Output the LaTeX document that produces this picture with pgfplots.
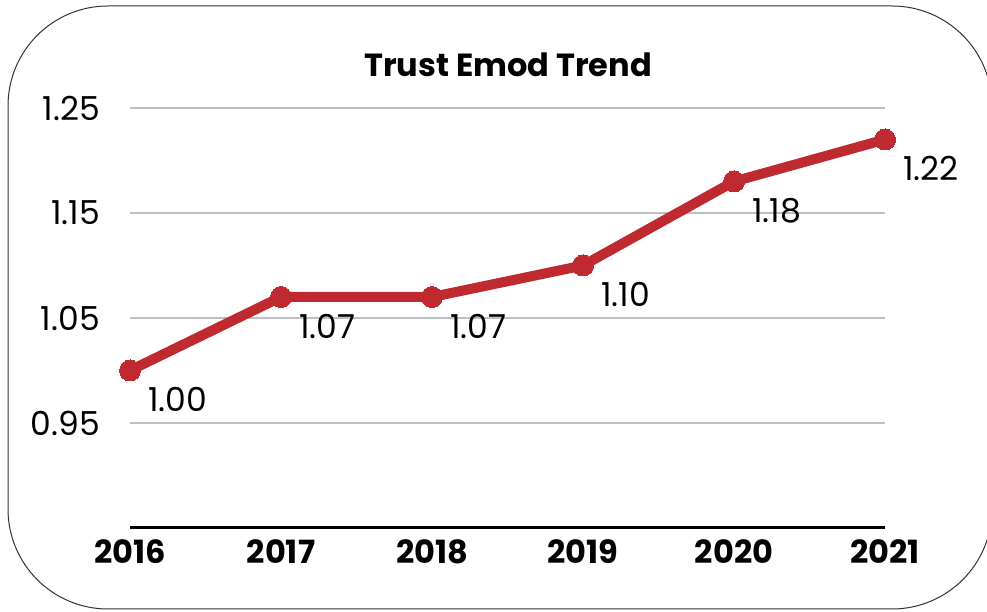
\documentclass[border=0pt]{standalone}
\usepackage{pgfplots}
\pgfplotsset{compat=1.18}
\usepackage{fontspec}
\setmainfont{Poppins}
\definecolor{lred}{HTML}{BE2A2F}
\definecolor{gridc}{HTML}{BFBFBF}
\begin{document}
\begin{tikzpicture}[x=1bp,y=1bp]
\useasboundingbox (0,0) rectangle (987,612);
\draw[line width=1bp, black!80, rounded corners=100bp] (8,3) rectangle (992,606);
\node[anchor=base, font=\fontsize{32bp}{36bp}\selectfont\bfseries, inner sep=0] at (508,535) {Trust Emod Trend};
\begin{axis}[
  at={(130bp,84bp)}, anchor=south west,
  scale only axis, width=755bp, height=420bp,
  xmin=2016, xmax=2021, ymin=0.85, ymax=1.25,
  axis x line*=bottom, axis y line*=left,
  x axis line style={line width=3bp, -},
  y axis line style={draw=none},
  xtick={2016,2017,2018,2019,2020,2021},
  ytick={0.95,1.05,1.15,1.25},
  major tick length=0pt,
  ymajorgrids, grid style={gridc, line width=2.2bp},
  xticklabel style={font=\fontsize{32bp}{36bp}\selectfont\bfseries, anchor=north, inner sep=0, yshift=-11bp},
  yticklabel style={font=\fontsize{33bp}{38bp}\selectfont, anchor=east, inner sep=0, xshift=-30bp},
  xticklabel={\pgfmathprintnumber[1000 sep={}]{\tick}},
  yticklabel={\pgfmathprintnumber[fixed, fixed zerofill, precision=2]{\tick}},
  /pgf/number format/assume math mode=true,
  clip=false,
]
\addplot[lred, line width=10bp, mark=*, mark size=10.5bp, mark options={fill=lred, draw=lred, line width=0pt},
  nodes near coords={\pgfmathprintnumber[fixed, fixed zerofill, precision=2]{\pgfplotspointmeta}},
  nodes near coords style={font=\fontsize{33bp}{38bp}\selectfont, text=black, anchor=west, inner sep=0, xshift=18bp, yshift=-29bp},
  point meta=explicit symbolic]
  table[meta=m] {
x y m
2016 1.00 1.00
2017 1.07 1.07
2018 1.07 1.07
2019 1.10 1.10
2020 1.18 1.18
2021 1.22 1.22
};
\end{axis}
\end{tikzpicture}
\end{document}
